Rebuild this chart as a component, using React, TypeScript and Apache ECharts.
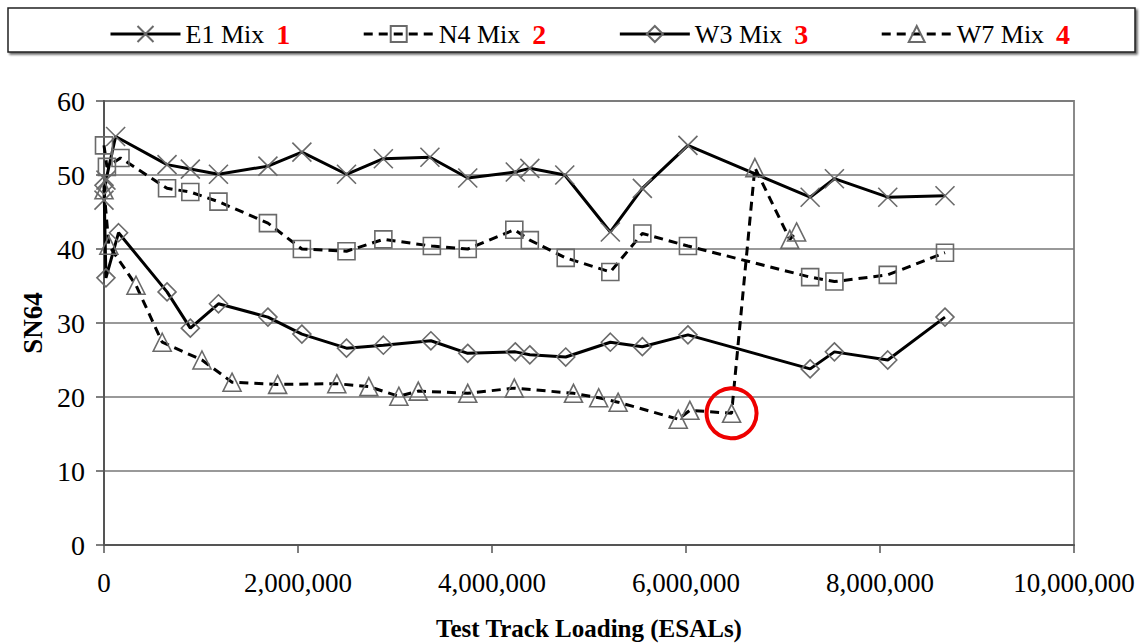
import React, { useEffect, useRef } from "react";
import * as echarts from "echarts";

const seriesNames = ["E1 Mix", "N4 Mix", "W3 Mix", "W7 Mix"];
const seriesNums = ["1", "2", "3", "4"];

const e1Data: [number, number][] = [
  [0, 46.6], [20000, 49.3], [120000, 55.2], [650000, 51.4], [890000, 50.8],
  [1180000, 50.1], [1690000, 51.2], [2040000, 53.1], [2500000, 50.1],
  [2880000, 52.2], [3360000, 52.4], [3750000, 49.6], [4240000, 50.4],
  [4390000, 50.9], [4750000, 50.0], [5220000, 42.3], [5550000, 48.2],
  [6020000, 54.0], [7280000, 47.0], [7530000, 49.5], [8080000, 47.0],
  [8670000, 47.2],
];

const n4Data: [number, number][] = [
  [0, 54.0], [30000, 51.1], [170000, 52.3], [650000, 48.2], [890000, 47.7],
  [1180000, 46.4], [1690000, 43.5], [2040000, 40.0], [2500000, 39.7],
  [2880000, 41.3], [3380000, 40.4], [3750000, 40.0], [4230000, 42.6],
  [4390000, 41.2], [4760000, 38.8], [5220000, 36.9], [5550000, 42.1],
  [6020000, 40.4], [7280000, 36.2], [7530000, 35.6], [8080000, 36.5],
  [8670000, 39.5],
];

const w3Data: [number, number][] = [
  [0, 48.6], [20000, 36.1], [150000, 42.2], [650000, 34.2], [890000, 29.3],
  [1180000, 32.6], [1690000, 30.8], [2040000, 28.5], [2500000, 26.6],
  [2880000, 27.0], [3370000, 27.6], [3750000, 25.9], [4240000, 26.1],
  [4390000, 25.7], [4760000, 25.4], [5220000, 27.4], [5550000, 26.8],
  [6020000, 28.4], [7280000, 23.8], [7530000, 26.1], [8080000, 25.0],
  [8670000, 30.8],
];

const w7Data: [number, number][] = [
  [0, 48.0], [50000, 40.5], [330000, 35.1], [600000, 27.4], [1010000, 25.0],
  [1320000, 22.0], [1790000, 21.7], [2400000, 21.8], [2730000, 21.4],
  [3040000, 20.1], [3240000, 20.8], [3750000, 20.5], [4230000, 21.2],
  [4840000, 20.5], [5100000, 19.9], [5300000, 19.3], [5920000, 17.0],
  [6040000, 18.2], [6470000, 17.8], [6710000, 51.0], [7070000, 41.3],
  [7140000, 42.3],
];

const circledPoint: [number, number] = [6470000, 17.8];

const X_SYMBOL = "path://M0,0L20,20M20,0L0,20";
const FONT = "Liberation Serif";

export default function App() {
  const ref = useRef<HTMLDivElement>(null);

  useEffect(() => {
    if (!ref.current) return;
    const chart = echarts.init(ref.current, undefined, { renderer: "svg" });
    const markerStyle = {
      color: "rgba(0,0,0,0)",
      borderColor: "#6a6a6a",
      borderWidth: 1.6,
    };
    const mk = (
      i: number,
      data: [number, number][],
      symbol: string,
      size: number,
      dashed: boolean,
      extra: any = {}
    ) => ({
      type: "line",
      name: seriesNames[i],
      data,
      symbol,
      symbolSize: size,
      showAllSymbol: true,
      itemStyle: markerStyle,
      lineStyle: {
        color: "#000",
        width: 3,
        type: dashed ? [9, 6] : "solid",
      },
      ...extra,
    });

    chart.setOption({
      animation: false,
      backgroundColor: "#fff",
      textStyle: { fontFamily: FONT },
      graphic: [
        {
          type: "rect",
          shape: { x: 8, y: 8, width: 1127, height: 44 },
          style: {
            fill: "#fff",
            stroke: "#222",
            lineWidth: 1.5,
            shadowBlur: 2,
            shadowOffsetX: 2,
            shadowOffsetY: 2,
            shadowColor: "rgba(0,0,0,0.6)",
          },
          z: -1,
        },
      ],
      legend: {
        left: 104,
        top: 15,
        itemWidth: 70,
        itemHeight: 20,
        itemGap: 72,
        data: seriesNames,
        lineStyle: { width: 3 },
        formatter: (name: string) =>
          `{n|${name}}{r|${seriesNums[seriesNames.indexOf(name)]}}`,
        textStyle: {
          fontFamily: FONT,
          rich: {
            n: { fontFamily: FONT, fontSize: 26, color: "#000" },
            r: {
              fontFamily: FONT,
              fontSize: 28,
              fontWeight: "bold",
              color: "#ff0000",
              padding: [0, 0, 0, 12],
            },
          },
        },
      },
      grid: {
        left: 104,
        right: 69,
        top: 101,
        bottom: 99,
        show: true,
        borderColor: "#8a8a8a",
        borderWidth: 2,
        outerBoundsMode: "none",
        containLabel: false,
      },
      xAxis: {
        type: "value",
        min: 0,
        max: 10000000,
        interval: 2000000,
        name: "Test Track Loading (ESALs)",
        nameLocation: "middle",
        nameGap: 71,
        nameTextStyle: {
          fontFamily: FONT,
          fontSize: 25,
          fontWeight: "bold",
          color: "#000",
        },
        axisLine: { show: true, lineStyle: { color: "#555", width: 2 } },
        axisTick: { show: true, length: 8, lineStyle: { color: "#555", width: 1.5 } },
        splitLine: { show: false },
        axisLabel: {
          margin: 24,
          fontFamily: FONT,
          fontSize: 27,
          color: "#000",
          formatter: (v: number) => v.toLocaleString("en-US"),
        },
      },
      yAxis: {
        type: "value",
        min: 0,
        max: 60,
        interval: 10,
        name: "SN64",
        nameLocation: "middle",
        nameGap: 58,
        nameRotate: 90,
        nameTextStyle: {
          fontFamily: FONT,
          fontSize: 27,
          fontWeight: "bold",
          color: "#000",
        },
        axisLine: { show: true, lineStyle: { color: "#555", width: 2 } },
        axisTick: { show: true, length: 8, lineStyle: { color: "#555", width: 1.5 } },
        splitLine: { show: true, lineStyle: { color: "#777", width: 1.5 } },
        axisLabel: {
          margin: 19,
          fontFamily: FONT,
          fontSize: 28,
          color: "#000",
        },
      },
      series: [
        mk(0, e1Data, X_SYMBOL, 19, false),
        mk(1, n4Data, "rect", 17, true),
        mk(2, w3Data, "diamond", 18, false),
        mk(3, w7Data, "triangle", 18, true, {
          markPoint: {
            symbol: "circle",
            symbolSize: 50,
            label: { show: false },
            itemStyle: {
              color: "rgba(0,0,0,0)",
              borderColor: "#ee0000",
              borderWidth: 4,
            },
            data: [{ coord: circledPoint }],
          },
        }),
      ],
    });
    return () => chart.dispose();
  }, []);

  return (
    <div
      ref={ref}
      style={{ position: "fixed", left: 0, top: 0, width: 1143, height: 644 }}
    />
  );
}
